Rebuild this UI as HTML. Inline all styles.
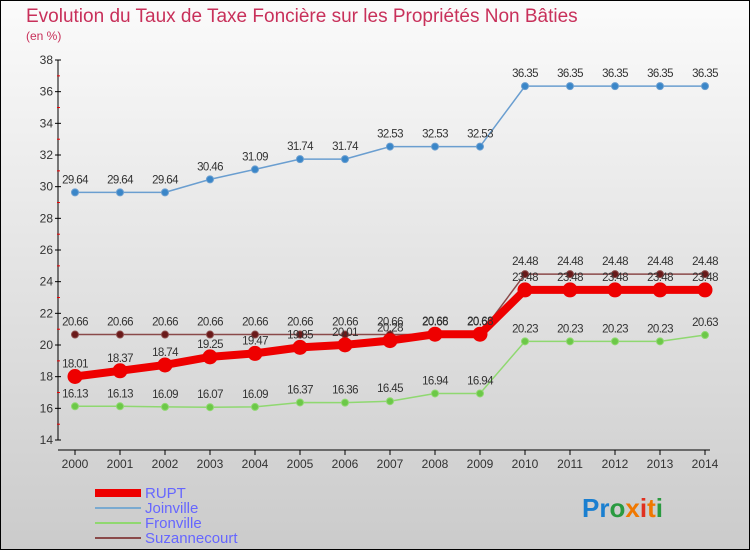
<!DOCTYPE html>
<html><head><meta charset="utf-8"><style>
body{margin:0;width:750px;height:550px;overflow:hidden;font-family:"Liberation Sans",sans-serif}
svg text{font-family:"Liberation Sans",sans-serif}
</style></head><body>
<svg width="750" height="550" xmlns="http://www.w3.org/2000/svg">
<defs><linearGradient id="bg" x1="0" y1="0" x2="0" y2="1"><stop offset="0" stop-color="#fbfbfb"/><stop offset="1" stop-color="#cbcbcb"/></linearGradient></defs>
<rect x="0.5" y="0.5" width="749" height="549" fill="url(#bg)" stroke="#000"/>
<text x="26" y="22" font-size="19" fill="#c8305a">Evolution du Taux de Taxe Foncière sur les Propriétés Non Bâties</text>
<text x="26" y="40" font-size="12" fill="#c8305a">(en %)</text>
<g id="axes"></g><g id="series"></g>
<g>
<line x1="95" y1="493" x2="141" y2="493" stroke="#e00" stroke-width="8"/>
<text x="145" y="498" font-size="15" fill="#66f">RUPT</text>
<line x1="95" y1="508" x2="141" y2="508" stroke="#7aaad0" stroke-width="2"/>
<text x="145" y="513" font-size="15" fill="#66f">Joinville</text>
<line x1="95" y1="523" x2="141" y2="523" stroke="#90d870" stroke-width="2"/>
<text x="145" y="528" font-size="15" fill="#66f">Fronville</text>
<line x1="95" y1="538" x2="141" y2="538" stroke="#8a4a4a" stroke-width="2"/>
<text x="145" y="543" font-size="15" fill="#66f">Suzannecourt</text>
</g>
<text x="582" y="517" font-size="26" font-weight="bold"><tspan fill="#1a7fd0">Pr</tspan><tspan fill="#2a9a40">o</tspan><tspan fill="#f07800">x</tspan><tspan fill="#e03020">i</tspan><tspan fill="#f07800">t</tspan><tspan fill="#2a9a40">i</tspan></text>
</svg>
<script>
const years=[2000,2001,2002,2003,2004,2005,2006,2007,2008,2009,2010,2011,2012,2013,2014];
const yTicks=[14,16,18,20,22,24,26,28,30,32,34,36,38];
const rupt=[18.01,18.37,18.74,19.25,19.47,19.85,20.01,20.28,20.68,20.68,23.48,23.48,23.48,23.48,23.48];
const joinville=[29.64,29.64,29.64,30.46,31.09,31.74,31.74,32.53,32.53,32.53,36.35,36.35,36.35,36.35,36.35];
const fronville=[16.13,16.13,16.09,16.07,16.09,16.37,16.36,16.45,16.94,16.94,20.23,20.23,20.23,20.23,20.63];
const suzannecourt=[20.66,20.66,20.66,20.66,20.66,20.66,20.66,20.66,20.66,20.66,24.48,24.48,24.48,24.48,24.48];
const NS="http://www.w3.org/2000/svg";
const xS=i=>75+i*45, yS=v=>440-(v-14)*(380/24);
function mk(t,a,p){const e=document.createElementNS(NS,t);for(const k in a)e.setAttribute(k,a[k]);p.appendChild(e);return e;}
const ax=document.getElementById('axes');
const yl=mk('line',{x1:58,y1:60,x2:58,y2:440,stroke:'#000'},ax);


const xl=mk('line',{x1:58,y1:450,x2:710,y2:450,stroke:'#000'},ax);


yTicks.forEach(v=>{const y=yS(v);mk('line',{x1:55,y1:y,x2:61,y2:y,stroke:'#000'},ax);
 if(v<38)mk('line',{x1:57,y1:y-15.8,x2:60,y2:y-15.8,stroke:'#e00'},ax);
 const t=mk('text',{x:53,y:y+4,'font-size':12,fill:'#333','text-anchor':'end'},ax);t.textContent=v;
 
 });
years.forEach((yr,i)=>{const x=xS(i);mk('line',{x1:x,y1:450,x2:x,y2:455,stroke:'#000'},ax);
 const t=mk('text',{x:x,y:468,'font-size':12,fill:'#333','text-anchor':'middle'},ax);t.textContent=yr;
 
 });
const sg=document.getElementById('series');
function draw(name,data,color,w,r,fill,labelColor){
 const g=mk('g',{},sg);
 
 
 mk('polyline',{points:data.map((v,i)=>xS(i)+','+yS(v)).join(' '),fill:'none',stroke:color,'stroke-width':w,'stroke-linejoin':'round'},g);
 data.forEach((v,i)=>{const c=mk('circle',{cx:xS(i),cy:yS(v),r:r,fill:fill,stroke:color,'stroke-width':1},g);
  
  
  const t=mk('text',{x:xS(i),y:yS(v)-9,'font-size':11.5,fill:'#333','text-anchor':'middle','letter-spacing':'-0.6'},g);t.textContent=v.toFixed(2);
  
  });
}
draw('joinville',joinville,'#6a9ed0',1.5,3.5,'#3a86c8');
draw('fronville',fronville,'#8fd870',1.5,3.5,'#6cc848');
draw('suzannecourt',suzannecourt,'#8a4a4a',1.5,3.5,'#6a1a1a');
draw('rupt',rupt,'#e00',8,7,'#e00');
</script>
</body></html>
